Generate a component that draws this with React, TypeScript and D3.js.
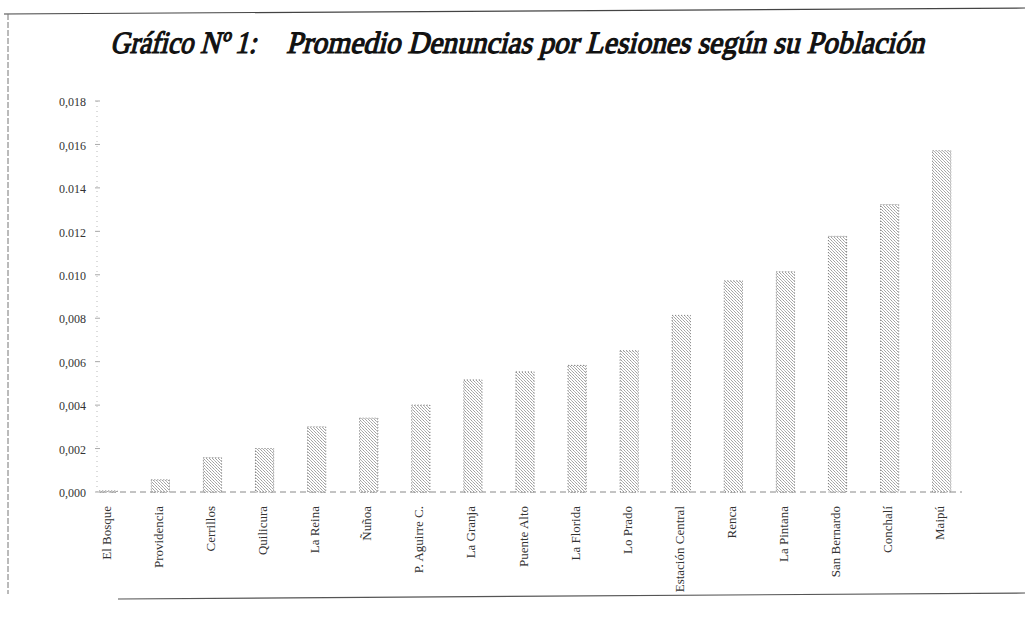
import React from "react";
import * as d3 from "d3";

const categories = [
  "El Bosque", "Providencia", "Cerrillos", "Quilicura", "La Reina", "Ñuñoa",
  "P. Aguirre C.", "La Granja", "Puente Alto", "La Florida", "Lo Prado",
  "Estación Central", "Renca", "La Pintana", "San Bernardo", "Conchalí", "Maipú",
];
const values = [
  0.00005, 0.00056, 0.00158, 0.002, 0.003, 0.0034,
  0.004, 0.00516, 0.00553, 0.00583, 0.0065,
  0.00813, 0.00972, 0.01014, 0.01177, 0.01323, 0.01571,
];
const tickValues = [0, 0.002, 0.004, 0.006, 0.008, 0.01, 0.012, 0.014, 0.016, 0.018];
const tickLabels = ["0,000", "0,002", "0,004", "0,006", "0,008", "0.010", "0.012", "0.014", "0,016", "0,018"];
const titleLeft = "Gráfico Nº 1:";
const titleRight = "Promedio Denuncias por Lesiones según su Población";

const W = 1025;
const H = 617;

export default function App() {
  const x = d3.scaleBand<string>().domain(categories).range([82, 968]).paddingInner(0.65).paddingOuter(0.33);
  const y = d3.scaleLinear().domain([0, 0.018]).range([492, 101]);
  const serif = "'Liberation Serif', 'Times New Roman', Times, serif";
  const bw = x.bandwidth();

  return (
    <svg width={W} height={H} style={{ position: "absolute", left: 0, top: 0, background: "#fff" }}>
      <defs>
        <pattern id="stip" width="3" height="3" patternUnits="userSpaceOnUse">
          <rect width="3" height="3" fill="#fff" />
          <rect x="0" y="0" width="1" height="1" fill="#a0a0a0" />
          <rect x="1" y="1" width="1" height="1" fill="#b8b8b8" />
          <rect x="2" y="2" width="1" height="1" fill="#a8a8a8" />
        </pattern>
      </defs>
      <rect width={W} height={H} fill="#fff" />
      {/* frame */}
      <line x1={4} y1={14} x2={1025} y2={8} stroke="#444" strokeWidth={1.2} />
      <line x1={8} y1={14} x2={8} y2={594} stroke="#777" strokeWidth={1} strokeDasharray="6 2" />
      <line x1={118} y1={599} x2={1025} y2={593} stroke="#555" strokeWidth={1.2} />

      {/* title (upright serif skewed to italic, stroked for bold) */}
      <text transform="translate(110,53) skewX(-14)" x={0} y={0} fontFamily={serif} fontSize={31} fill="#111"
        stroke="#111" strokeWidth={1.2} textLength={146} lengthAdjust="spacingAndGlyphs">
        {titleLeft}
      </text>
      <text transform="translate(286,53) skewX(-14)" x={0} y={0} fontFamily={serif} fontSize={31} fill="#111"
        stroke="#111" strokeWidth={1.2} textLength={638} lengthAdjust="spacingAndGlyphs">
        {titleRight}
      </text>

      {/* y axis */}
      <line x1={97} y1={y(0)} x2={97} y2={y(0.018)} stroke="#bbb" strokeWidth={1} strokeDasharray="1 4" />
      {tickValues.map((t, i) => (
        <g key={t}>
          <line x1={95} x2={100} y1={y(t)} y2={y(t)} stroke="#aaa" strokeWidth={1} />
          <text x={86} y={y(t) + 1} dy="0.35em" textAnchor="end" fontFamily={serif} fontSize={12} fill="#333">
            {tickLabels[i]}
          </text>
        </g>
      ))}

      {/* baseline */}
      <line x1={100} y1={y(0)} x2={962} y2={y(0)} stroke="#888" strokeWidth={1} strokeDasharray="6 4" />

      {/* bars */}
      {categories.map((c, i) => (
        <rect
          key={c}
          x={x(c)}
          y={y(values[i])}
          width={bw}
          height={y(0) - y(values[i])}
          fill="url(#stip)"
          stroke="#777"
          strokeWidth={1}
          strokeDasharray="1 2"
        />
      ))}

      {/* x labels */}
      {categories.map((c) => {
        const cx = (x(c) as number) + bw / 2 - 2;
        return (
          <text
            key={c}
            transform={`translate(${cx},506) rotate(-90)`}
            textAnchor="end"
            dy="0.35em"
            fontFamily={serif}
            fontSize={13}
            fill="#333"
          >
            {c}
          </text>
        );
      })}
    </svg>
  );
}
